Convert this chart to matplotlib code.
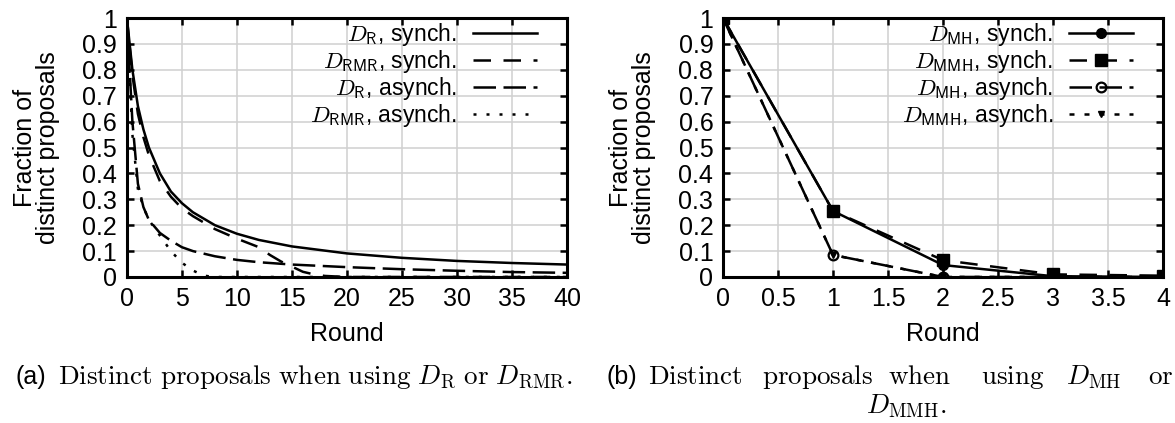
import numpy as np
import matplotlib.pyplot as plt
from matplotlib.ticker import FuncFormatter

plt.rcParams["font.family"] = ["Liberation Sans", "DejaVu Sans"]
plt.rcParams["mathtext.fontset"] = "cm"

# (a) D_R / D_RMR
rounds_r = [0, 0.5, 1, 1.5, 2, 3, 4, 5, 6, 8, 10, 12, 15, 20, 25, 30, 35, 40]
r_sync = [1.0, 0.8, 0.66, 0.57, 0.5, 0.4, 0.33, 0.285, 0.25, 0.2, 0.167, 0.143,
          0.118, 0.091, 0.074, 0.062, 0.054, 0.048]
rounds_rmr_sync = [0, 0.5, 1, 1.5, 2, 3, 4, 5, 6, 8, 10, 12, 13, 14, 15, 16, 17, 18, 20, 40]
rmr_sync = [1.0, 0.78, 0.63, 0.54, 0.47, 0.37, 0.31, 0.265, 0.235, 0.185, 0.148,
            0.115, 0.085, 0.06, 0.04, 0.02, 0.01, 0.004, 0.0, 0.0]
rounds_r_async = [0, 0.5, 1, 1.5, 2, 3, 4, 5, 6, 8, 10, 12, 15, 20, 25, 30, 35, 40]
r_async = [1.0, 0.6, 0.36, 0.27, 0.22, 0.17, 0.14, 0.115, 0.1, 0.08, 0.066, 0.057,
           0.048, 0.038, 0.03, 0.024, 0.019, 0.016]
rounds_rmr_async = [0, 0.5, 1, 1.5, 2, 3, 4, 5, 6, 7, 8, 40]
rmr_async = [1.0, 0.55, 0.34, 0.27, 0.22, 0.16, 0.1, 0.055, 0.025, 0.005, 0.0, 0.0]

# (b) D_MH / D_MMH
rounds_m = [0, 1, 2, 3, 4]
mh_sync = [1.0, 0.255, 0.046, 0.003, 0.0]
mmh_sync = [1.0, 0.255, 0.065, 0.01, 0.005]
mh_async = [1.0, 0.085, 0.0, 0.0, 0.0]
mmh_async = [1.0, 0.085, 0.0, 0.0, 0.0]

fs = 18
lfs = 16.5
cfs = 19.5


def style_axes(ax, xmax, xstep):
    ax.set_xlim(0, xmax)
    ax.set_ylim(0, 1)
    ax.set_xticks(np.arange(0, xmax + xstep / 2, xstep))
    ax.set_yticks(np.arange(0, 1.01, 0.1))
    fmt = FuncFormatter(lambda v, p: f"{v:g}")
    ax.xaxis.set_major_formatter(fmt)
    ax.yaxis.set_major_formatter(fmt)
    ax.tick_params(direction="in", length=5, width=1.8, top=True, right=True,
                   labelsize=fs, pad=7)
    ax.grid(True, color="#d0d0d0", linewidth=1.1)
    ax.set_axisbelow(True)
    for s in ax.spines.values():
        s.set_linewidth(2.2)
    ax.set_xlabel("Round", fontsize=fs, labelpad=8)
    ax.set_ylabel("Fraction of\ndistinct proposals", fontsize=fs, labelpad=16,
                  linespacing=0.95)


def serif(s):
    return r"$\mathrm{" + s.replace(" ", r"\ ") + "}$"


fig = plt.figure(figsize=(11.75, 4.23), dpi=100)
ax1 = fig.add_axes([0.108, 0.3452, 0.3745, 0.6122])
ax2 = fig.add_axes([0.6153, 0.3452, 0.3745, 0.6122])

lw = 1.8
ax1.plot(rounds_r, r_sync, color="black", lw=lw, label=r"$D_{\mathsf{R}}$, synch.")
ax1.plot(rounds_rmr_sync, rmr_sync, color="black", lw=lw, dashes=(7, 5),
         label=r"$D_{\mathsf{RMR}}$, synch.")
ax1.plot(rounds_r_async, r_async, color="black", lw=lw, dashes=(9, 3),
         label=r"$D_{\mathsf{R}}$, asynch.")
ax1.plot(rounds_rmr_async, rmr_async, color="black", lw=lw, dashes=(1.2, 4),
         label=r"$D_{\mathsf{RMR}}$, asynch.")
style_axes(ax1, 40, 5)

ax2.plot(rounds_m, mh_sync, color="black", lw=lw, marker="o", ms=7,
         label=r"$D_{\mathsf{MH}}$, synch.")
ax2.plot(rounds_m, mmh_sync, color="black", lw=lw, dashes=(7, 5), marker="s", ms=8,
         label=r"$D_{\mathsf{MMH}}$, synch.")
ax2.plot(rounds_m, mh_async, color="black", lw=lw, dashes=(9, 3), marker="o", ms=7,
         mfc="none", mew=1.6, label=r"$D_{\mathsf{MH}}$, asynch.")
ax2.plot(rounds_m, mmh_async, color="black", lw=lw, dashes=(2, 4), marker="v", ms=5,
         label=r"$D_{\mathsf{MMH}}$, asynch.")
style_axes(ax2, 4, 0.5)

for ax in (ax1, ax2):
    leg = ax.legend(loc="upper right", frameon=False, markerfirst=False,
                    fontsize=lfs, handlelength=2.8, labelspacing=0.0,
                    borderaxespad=0, borderpad=0, handletextpad=0.7,
                    bbox_to_anchor=(0.932, 0.99))
    leg.set_zorder(5)

# captions
y1 = 0.092
fig.text(0.013, y1, "(a)", fontsize=fs, va="baseline")
fig.text(0.049, y1,
         r"$\mathrm{Distinct\ proposals\ when\ using\ }D_{\mathrm{R}}"
         r"\mathrm{\ or\ }D_{\mathrm{RMR}}.$",
         fontsize=cfs, va="baseline")
fig.text(0.516, y1, "(b)", fontsize=fs, va="baseline")
words = [serif("Distinct"), serif("proposals"), serif("when"), serif("using"),
         r"$D_{\mathrm{MH}}$", serif("or")]
xs = [648, 762, 888, 981, 1066, 1148]
for w, x in zip(words, xs):
    fig.text(x / 1175, y1, w, fontsize=cfs, va="baseline")
fig.text(906 / 1175, 0.022, r"$D_{\mathrm{MMH}}.$", fontsize=cfs,
         va="baseline", ha="center")

fig.savefig("out.png", dpi=100)
